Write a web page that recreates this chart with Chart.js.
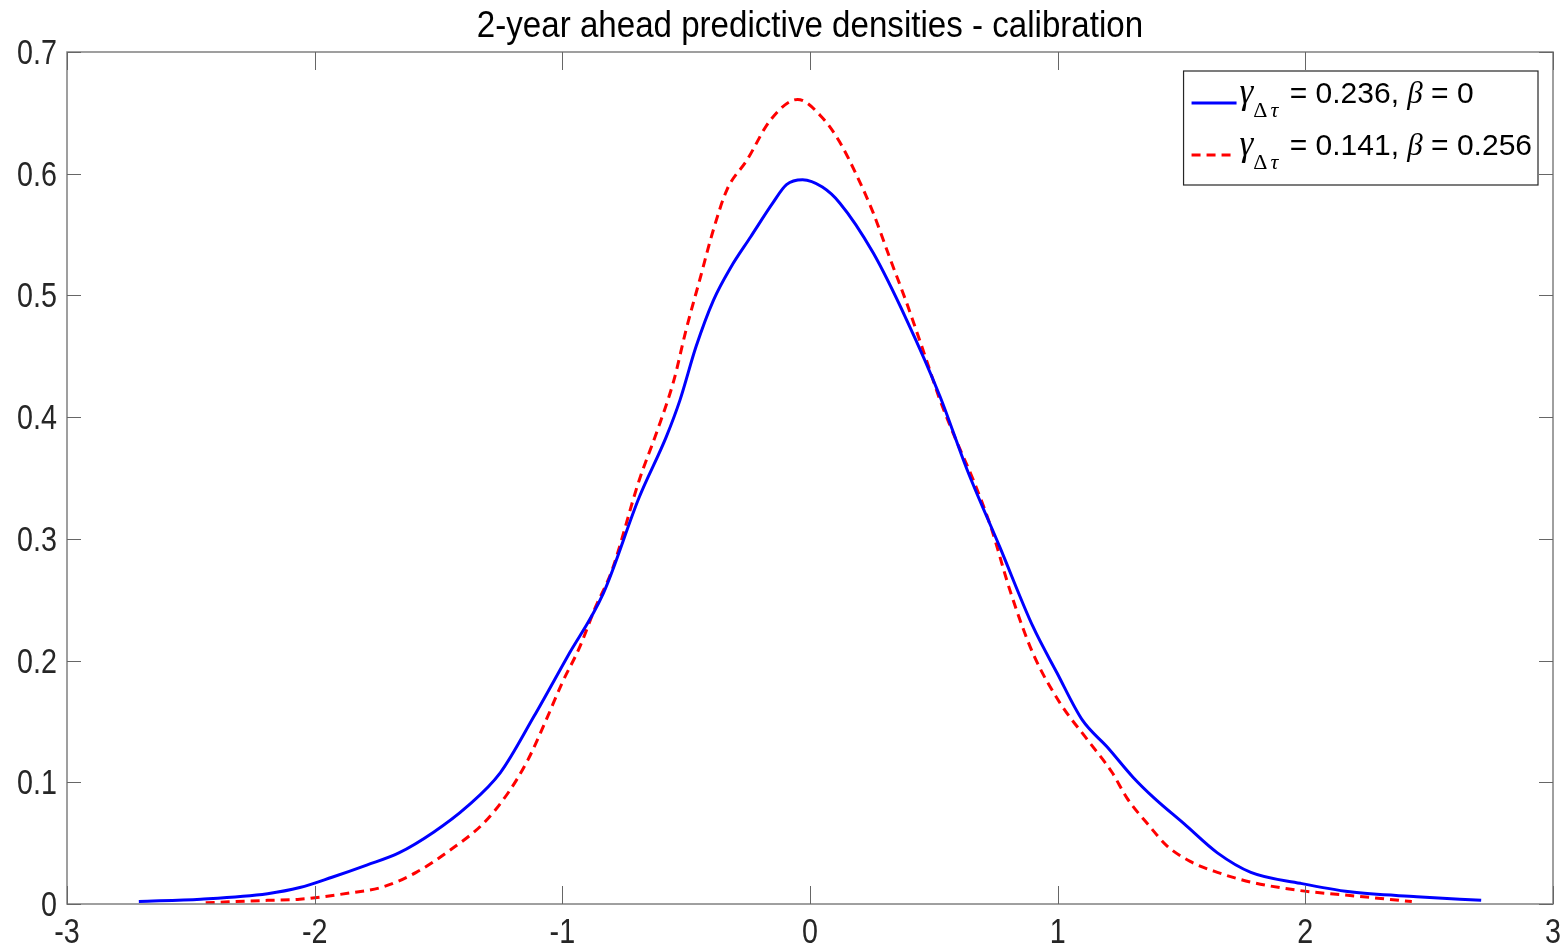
<!DOCTYPE html>
<html><head><meta charset="utf-8">
<script src="https://cdn.jsdelivr.net/npm/chart.js@4.4.1/dist/chart.umd.min.js"></script>
<style>html,body{margin:0;padding:0;background:#fff;}#wrap{width:1566px;height:949px;}</style>
</head><body><div id="wrap"><canvas id="c" width="1566" height="949"></canvas></div>
<script>
// ---- data ----
const blueX = [-2.71,-2.46,-2.19,-2.06,-1.93,-1.79,-1.66,-1.52,-1.385,-1.25,-1.115,-0.98,-0.835,-0.69,-0.58,-0.525,-0.46,-0.39,-0.32,-0.24,-0.15,-0.095,-0.03,0.05,0.12,0.255,0.39,0.525,0.634,0.767,0.9,0.997,1.1,1.2,1.305,1.39,1.51,1.645,1.78,1.98,2.18,2.45,2.71];
const blueY = [0.002,0.004,0.0085,0.0135,0.022,0.032,0.042,0.059,0.080,0.108,0.154,0.203,0.255,0.334,0.384,0.414,0.458,0.496,0.523,0.548,0.576,0.591,0.595,0.589,0.576,0.535,0.480,0.417,0.357,0.293,0.228,0.190,0.151,0.129,0.104,0.087,0.066,0.042,0.026,0.017,0.010,0.006,0.003];
const redX = [-2.44,-2.19,-2.06,-1.86,-1.725,-1.59,-1.455,-1.32,-1.22,-1.14,-1.07,-1.0,-0.93,-0.87,-0.8,-0.69,-0.62,-0.55,-0.5,-0.445,-0.39,-0.335,-0.255,-0.16,-0.05,0.05,0.12,0.19,0.255,0.32,0.39,0.46,0.525,0.59,0.66,0.73,0.81,0.9,1.01,1.12,1.22,1.28,1.375,1.44,1.535,1.645,1.78,1.98,2.18,2.43];
const redY = [0.001,0.003,0.004,0.009,0.014,0.026,0.044,0.066,0.091,0.118,0.149,0.182,0.211,0.242,0.274,0.348,0.387,0.430,0.472,0.513,0.554,0.587,0.611,0.644,0.661,0.646,0.626,0.598,0.568,0.532,0.494,0.453,0.414,0.381,0.348,0.310,0.256,0.206,0.165,0.135,0.108,0.087,0.063,0.048,0.035,0.026,0.018,0.011,0.007,0.002];
const xTicks = [-3,-2,-1,0,1,2,3];
const yTicks = [0,0.1,0.2,0.3,0.4,0.5,0.6,0.7];
const titleText = '2-year ahead predictive densities - calibration';
const seriesGamma = ['0.236','0.141'];
const seriesBeta = ['0','0.256'];
const seriesColors = ['#0000ff','#ff0000'];

const SANS = '"Liberation Sans","Arimo",Arial,sans-serif';
const SERIF = '"Liberation Serif","Tinos","Times New Roman",serif';

function labelParts(i){
  return [
    {t:'\u03B3', font:'italic 35px '+SERIF, dy:0, after:0},
    {t:'\u0394', font:'22px '+SERIF, dy:14, after:3},
    {t:'\u03C4', font:'italic 22px '+SERIF, dy:14, after:3},
    {t:' = '+seriesGamma[i]+', ', font:'30px '+SANS, dy:0, after:0},
    {t:'\u03B2', font:'italic 31px '+SERIF, dy:0, after:0},
    {t:' = '+seriesBeta[i], font:'30px '+SANS, dy:0, after:0}
  ];
}
function drawParts(ctx, parts, x, base, draw){
  let cx = x;
  for (const p of parts){
    ctx.font = p.font;
    if (draw) ctx.fillText(p.t, cx, base + p.dy);
    cx += ctx.measureText(p.t).width + p.after;
  }
  return cx - x;
}
function condensedText(ctx, text, x, y, align, k){
  ctx.save();
  ctx.translate(x, y);
  ctx.scale(k, 1);
  ctx.textAlign = align;
  ctx.textBaseline = 'alphabetic';
  ctx.fillText(text, 0, 0);
  ctx.restore();
}

const framePlugin = {
  id:'frame',
  afterDatasetsDraw(chart){
    const {ctx, chartArea:{left,right,top,bottom}, scales:{x,y}} = chart;
    ctx.save();
    ctx.strokeStyle = '#808080';
    ctx.lineWidth = 1.5;
    ctx.strokeRect(left, top, right-left, bottom-top);
    ctx.beginPath();
    x.ticks.forEach(t=>{
      const px = Math.round(x.getPixelForValue(t.value))+0.5;
      ctx.moveTo(px,bottom); ctx.lineTo(px,bottom-18);
      ctx.moveTo(px,top); ctx.lineTo(px,top+18);
    });
    y.ticks.forEach(t=>{
      const py = Math.round(y.getPixelForValue(t.value))+0.5;
      ctx.moveTo(left,py); ctx.lineTo(left+14,py);
      ctx.moveTo(right,py); ctx.lineTo(right-14,py);
    });
    ctx.strokeStyle = '#666';
    ctx.lineWidth = 1;
    ctx.stroke();

    // tick labels
    ctx.fillStyle = '#262626';
    ctx.font = '35px ' + SANS;
    x.ticks.forEach(t=>{ condensedText(ctx, String(t.value), x.getPixelForValue(t.value), bottom + 39, 'center', 0.82); });
    y.ticks.forEach(t=>{ condensedText(ctx, String(t.value), left - 10, y.getPixelForValue(t.value) + 12, 'right', 0.82); });

    // title
    ctx.fillStyle = '#000';
    ctx.font = '37px ' + SANS;
    condensedText(ctx, titleText, (left + right) / 2, 37, 'center', 0.895);

    // legend
    const padL = 8, sample = 45, gap = 3, padR = 6;
    let maxW = 0;
    chart.data.datasets.forEach((d,i)=>{ maxW = Math.max(maxW, drawParts(ctx, labelParts(i), 0, 0, false)); });
    const bw = padL + sample + gap + maxW + padR;
    const bh = 114;
    const bx = right - 15 - bw, by = top + 19;
    ctx.fillStyle = '#fff';
    ctx.fillRect(bx, by, bw, bh);
    ctx.strokeStyle = '#262626';
    ctx.lineWidth = 1.2;
    ctx.strokeRect(bx, by, bw, bh);
    chart.data.datasets.forEach((d,i)=>{
      const base = by + 32 + i*52;
      ctx.beginPath();
      ctx.strokeStyle = d.borderColor;
      ctx.lineWidth = d.borderWidth;
      ctx.setLineDash(d.borderDash || []);
      ctx.moveTo(bx+padL, base); ctx.lineTo(bx+padL+sample, base);
      ctx.stroke();
      ctx.setLineDash([]);
      ctx.fillStyle = '#000';
      ctx.textBaseline = 'alphabetic';
      ctx.textAlign = 'left';
      drawParts(ctx, labelParts(i), bx+padL+sample+gap, base, true);
    });
    ctx.restore();
  }
};

const toPts = (xs, ys) => xs.map((v,i)=>({x:v, y:ys[i]}));

new Chart(document.getElementById('c'), {
  type:'scatter',
  data:{ datasets:[
    {label:'\u03B3\u0394\u03C4 = 0.236, \u03B2 = 0', data:toPts(blueX,blueY), showLine:true, pointRadius:0,
     borderColor:seriesColors[0], borderWidth:3, cubicInterpolationMode:'monotone', fill:false},
    {label:'\u03B3\u0394\u03C4 = 0.141, \u03B2 = 0.256', data:toPts(redX,redY), showLine:true, pointRadius:0,
     borderColor:seriesColors[1], borderWidth:3, borderDash:[9,6], cubicInterpolationMode:'monotone', fill:false}
  ]},
  options:{
    responsive:false, animation:false, devicePixelRatio:1,
    layout:{padding:{left:67,right:13,top:52,bottom:45}},
    plugins:{ legend:{display:false}, tooltip:{enabled:false}, title:{display:false} },
    scales:{
      x:{type:'linear', min:-3, max:3, display:true,
         afterBuildTicks:s=>{ s.ticks = xTicks.map(v=>({value:v})); },
         afterFit:s=>{ s.height = 0; },
         grid:{display:false}, border:{display:false}, ticks:{display:false}},
      y:{type:'linear', min:0, max:0.7, display:true,
         afterBuildTicks:s=>{ s.ticks = yTicks.map(v=>({value:v})); },
         afterFit:s=>{ s.width = 0; },
         grid:{display:false}, border:{display:false}, ticks:{display:false}}
    }
  },
  plugins:[framePlugin]
});
</script></body></html>
